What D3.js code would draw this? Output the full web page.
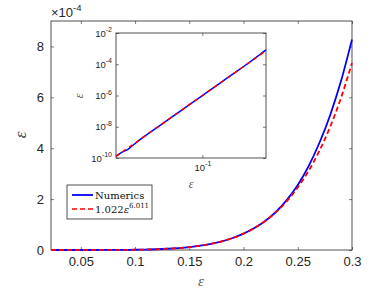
<!DOCTYPE html>
<html>
<head>
<meta charset="utf-8">
<script src="https://cdn.jsdelivr.net/npm/d3@7"></script>
<style>
	body { margin: 0; background: #fff; }
	svg { display: block; }
	.tick text { font-family: "Liberation Sans", Arial, sans-serif; fill: #262626; }
</style>
</head>
<body>
<div id="container"></div>
<script>
// epsilon grid
var eps = [0.0225, 0.025, 0.0275, 0.03, 0.035, 0.04, 0.05, 0.06, 0.07, 0.08, 0.09, 0.1,
	0.11, 0.12, 0.13, 0.14, 0.15, 0.16, 0.17, 0.18, 0.19, 0.2, 0.21, 0.22, 0.23, 0.24,
	0.25, 0.26, 0.27, 0.28, 0.29, 0.3];

// numerics (blue)
var numerics = [1.34e-10, 2.40e-10, 3.40e-10, 6.30e-10, 1.811e-9, 4.040e-9, 1.545e-8, 4.623e-8,
	1.168e-7, 2.606e-7, 5.289e-7, 9.965e-7, 1.767e-6, 2.981e-6, 4.824e-6, 7.530e-6, 1.140e-5,
	1.680e-5, 2.419e-5, 3.411e-5, 4.721e-5, 6.426e-5, 8.616e-5, 1.140e-4, 1.504e-4, 1.971e-4,
	2.556e-4, 3.298e-4, 4.215e-4, 5.318e-4, 6.657e-4, 8.272e-4];

// fit 1.022 eps^6.011 (red dashed)
var fit = [1.272e-10, 2.396e-10, 4.249e-10, 7.169e-10, 1.811e-9, 4.040e-9, 1.545e-8, 4.623e-8,
	1.168e-7, 2.606e-7, 5.289e-7, 9.965e-7, 1.767e-6, 2.981e-6, 4.824e-6, 7.530e-6, 1.140e-5,
	1.680e-5, 2.419e-5, 3.411e-5, 4.721e-5, 6.426e-5, 8.616e-5, 1.140e-4, 1.489e-4, 1.923e-4,
	2.458e-4, 3.111e-4, 3.903e-4, 4.857e-4, 5.997e-4, 7.353e-4];

var xTicks = [0.05, 0.1, 0.15, 0.2, 0.25, 0.3];
var yTicks = [0, 2e-4, 4e-4, 6e-4, 8e-4];
var insetYTicks = [1e-10, 1e-8, 1e-6, 1e-4, 1e-2];
var insetXTicks = [0.1];

var w = 389, h = 292;
var axisColor = "#262626";

var svg = d3.select("#container")
	.append("svg")
	.attr("width", w)
	.attr("height", h);

// main axes
var x = d3.scaleLinear().domain([0.0225, 0.3]).range([51, 352]);
var y = d3.scaleLinear().domain([0, 9e-4]).range([250, 21]);

function styleAxis(g) {
	g.select(".domain").remove();
	g.selectAll(".tick line").attr("stroke", axisColor).attr("stroke-width", 0.6);
}

svg.append("g")
	.attr("transform", "translate(0,250)")
	.call(d3.axisBottom(x).tickValues(xTicks).tickSize(-3).tickPadding(7)
		.tickFormat(function(d){ return d3.format("")(+d.toFixed(2)); }))
	.call(styleAxis)
	.selectAll("text").attr("font-size", 13);

svg.append("g")
	.attr("transform", "translate(0,21)")
	.call(d3.axisTop(x).tickValues(xTicks).tickSize(-3).tickFormat(""))
	.call(styleAxis);

svg.append("g")
	.attr("transform", "translate(51,0)")
	.call(d3.axisLeft(y).tickValues(yTicks).tickSize(-3).tickPadding(7)
		.tickFormat(function(d){ return Math.round(d * 1e4); }))
	.call(styleAxis)
	.selectAll("text").attr("font-size", 13);

svg.append("g")
	.attr("transform", "translate(352,0)")
	.call(d3.axisRight(y).tickValues(yTicks).tickSize(-3).tickFormat(""))
	.call(styleAxis);

svg.append("rect")
	.attr("x", 51).attr("y", 21)
	.attr("width", 301).attr("height", 229)
	.attr("fill", "none")
	.attr("stroke", axisColor)
	.attr("stroke-width", 0.8);

// x10^-4 multiplier
var mult = svg.append("text")
	.attr("x", 51).attr("y", 17)
	.attr("font-family", "Liberation Sans, Arial, sans-serif")
	.attr("font-size", 13)
	.attr("fill", axisColor);
mult.append("tspan").text("\u00d710");
mult.append("tspan").attr("dy", -6).attr("font-size", 9.5).text("-4");

var mainLine = d3.line()
	.x(function(d, i){ return x(eps[i]); })
	.y(function(d){ return y(d); })
	.curve(d3.curveMonotoneX);

svg.append("path")
	.datum(numerics)
	.attr("d", mainLine)
	.attr("fill", "none")
	.attr("stroke", "#0000ff")
	.attr("stroke-width", 1.8);

svg.append("path")
	.datum(fit)
	.attr("d", mainLine)
	.attr("fill", "none")
	.attr("stroke", "#ff0000")
	.attr("stroke-width", 1.8)
	.attr("stroke-dasharray", "5,3");

// axis labels
svg.append("text")
	.attr("x", 201).attr("y", 286)
	.attr("text-anchor", "middle")
	.attr("font-family", "Liberation Serif, serif")
	.attr("font-style", "italic")
	.attr("font-size", 15)
	.attr("fill", "#555")
	.text("\u03b5");

svg.append("text")
	.attr("transform", "translate(26,135) rotate(-90)")
	.attr("text-anchor", "middle")
	.attr("font-family", "Liberation Serif, serif")
	.attr("font-style", "italic")
	.attr("font-size", 17)
	.attr("fill", "#444")
	.text("\u03b5");

// inset
var ix = d3.scaleLog().domain([0.0225, 0.3]).range([116, 266]);
var iy = d3.scaleLog().domain([1e-10, 1e-2]).range([158, 33]);

svg.append("rect")
	.attr("x", 116).attr("y", 33)
	.attr("width", 150).attr("height", 125)
	.attr("fill", "#fff")
	.attr("stroke", axisColor)
	.attr("stroke-width", 0.8);

function powLabel(g) {
	g.selectAll(".tick text").each(function(d){
		var t = d3.select(this);
		var e = Math.round(Math.log10(d));
		t.text(null);
		t.append("tspan").text("10");
		t.append("tspan").attr("dy", -4.5).attr("font-size", 7).text(e);
	});
}

svg.append("g")
	.attr("transform", "translate(116,0)")
	.call(d3.axisLeft(iy).tickValues(insetYTicks).tickSize(-3).tickPadding(4))
	.call(styleAxis)
	.call(powLabel)
	.selectAll(".tick text").attr("font-size", 9.5).attr("fill", "#444");

svg.append("g")
	.attr("transform", "translate(266,0)")
	.call(d3.axisRight(iy).tickValues(insetYTicks).tickSize(-3).tickFormat(""))
	.call(styleAxis);

svg.append("g")
	.attr("transform", "translate(0,158)")
	.call(d3.axisBottom(ix).tickValues(insetXTicks).tickSize(-3).tickPadding(6))
	.call(styleAxis)
	.call(powLabel)
	.selectAll(".tick text").attr("font-size", 9.5).attr("fill", "#444");

svg.append("g")
	.attr("transform", "translate(0,33)")
	.call(d3.axisTop(ix).tickValues(insetXTicks).tickSize(-3).tickFormat(""))
	.call(styleAxis);

var insetLine = d3.line()
	.x(function(d, i){ return ix(eps[i]); })
	.y(function(d){ return iy(d); });

svg.append("path")
	.datum(numerics)
	.attr("d", insetLine)
	.attr("fill", "none")
	.attr("stroke", "#0000ff")
	.attr("stroke-width", 1.5);

svg.append("path")
	.datum(fit)
	.attr("d", insetLine)
	.attr("fill", "none")
	.attr("stroke", "#ff0000")
	.attr("stroke-width", 1.5)
	.attr("stroke-dasharray", "4,4");

svg.append("text")
	.attr("x", 191).attr("y", 188)
	.attr("text-anchor", "middle")
	.attr("font-family", "Liberation Serif, serif")
	.attr("font-style", "italic")
	.attr("font-size", 12)
	.attr("fill", "#555")
	.text("\u03b5");

svg.append("text")
	.attr("transform", "translate(83,96) rotate(-90)")
	.attr("text-anchor", "middle")
	.attr("font-family", "Liberation Serif, serif")
	.attr("font-style", "italic")
	.attr("font-size", 12)
	.attr("fill", "#555")
	.text("\u03b5");

// legend
var legend = svg.append("g");
legend.append("rect")
	.attr("x", 67).attr("y", 185)
	.attr("width", 85).attr("height", 34)
	.attr("fill", "#fff")
	.attr("stroke", axisColor)
	.attr("stroke-width", 0.8);

var legendItems = [
	{ color: "#0000ff", dash: null, y: 195 },
	{ color: "#ff0000", dash: "5,3", y: 209 }
];
legend.selectAll("line")
	.data(legendItems)
	.enter()
	.append("line")
	.attr("x1", 72).attr("x2", 93)
	.attr("y1", function(d){ return d.y; })
	.attr("y2", function(d){ return d.y; })
	.attr("stroke", function(d){ return d.color; })
	.attr("stroke-width", function(d, i){ return i === 0 ? 1.8 : 1.6; })
	.attr("stroke-dasharray", function(d){ return d.dash; });

legend.append("text")
	.attr("x", 95).attr("y", 199)
	.attr("font-family", "DejaVu Serif, serif")
	.attr("font-size", 10)
	.attr("fill", "#111")
	.text("Numerics");

var fitLabel = legend.append("text")
	.attr("x", 95).attr("y", 213)
	.attr("font-family", "DejaVu Serif, serif")
	.attr("font-size", 10)
	.attr("fill", "#111");
fitLabel.append("tspan").text("1.022");
fitLabel.append("tspan").attr("font-style", "italic").text("\u03b5");
fitLabel.append("tspan").attr("dy", -5).attr("font-size", 7).text("6.011");
</script>
</body>
</html>
